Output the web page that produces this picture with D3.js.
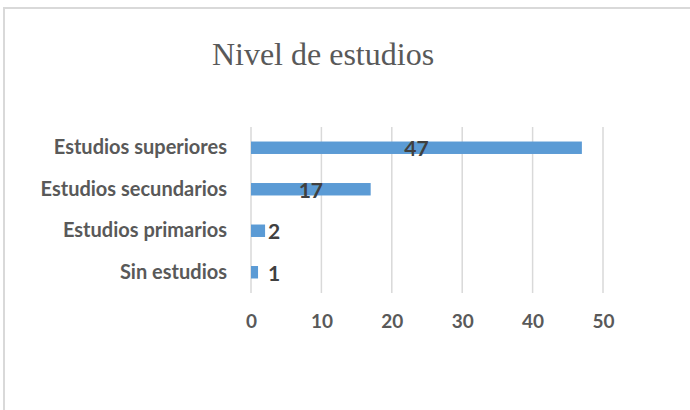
<!DOCTYPE html>
<html>
<head>
<meta charset="utf-8">
<script src="https://cdn.jsdelivr.net/npm/d3@7"></script>
<style>
  body { margin: 0; background: #fff; }
  svg { display: block; }
</style>
</head>
<body>
<svg id="chart"></svg>
<script>
var categories = ["Estudios superiores", "Estudios secundarios", "Estudios primarios", "Sin estudios"];
var values = [47, 17, 2, 1];
var xTicks = [0, 10, 20, 30, 40, 50];
var title = "Nivel de estudios";

var width = 690, height = 410;
var margin = { "top": 127, "right": 87, "bottom": 117, "left": 251 };

var svg = d3.select("#chart")
  .attr("width", width)
  .attr("height", height);

// chart area border
svg.append("rect")
  .attr("x", 4)
  .attr("y", 8)
  .attr("width", width + 10)
  .attr("height", height + 10)
  .attr("fill", "#fff")
  .attr("stroke", "#d9d9d9")
  .attr("stroke-width", 2);

svg.append("text")
  .attr("x", 323)
  .attr("y", 65)
  .attr("text-anchor", "middle")
  .attr("font-family", "'Liberation Serif', 'Times New Roman', serif")
  .attr("font-size", 32)
  .attr("fill", "#595959")
  .text(title);

var x = d3.scaleLinear()
  .domain([0, 50])
  .range([margin.left, width - margin.right]);

var y = d3.scaleBand()
  .domain(categories)
  .range([margin.top, height - margin.bottom])
  .paddingInner(0.7)
  .paddingOuter(0.35);

// gridlines
svg.append("g")
  .selectAll("line")
  .data(xTicks)
  .enter()
  .append("line")
  .attr("x1", function(d) { return x(d); })
  .attr("x2", function(d) { return x(d); })
  .attr("y1", margin.top)
  .attr("y2", height - margin.bottom)
  .attr("stroke", "#d9d9d9")
  .attr("stroke-width", 1.5);

// x axis labels
var xAxis = svg.append("g")
  .attr("transform", "translate(0," + (height - margin.bottom) + ")")
  .call(d3.axisBottom(x).tickValues(xTicks).tickSize(0).tickPadding(22));
xAxis.select(".domain").remove();
xAxis.selectAll("text")
  .attr("font-family", "Lato, 'Open Sans', sans-serif")
  .attr("font-weight", "bold")
  .attr("font-size", 19)
  .attr("fill", "#595959");

// y axis labels
var yAxis = svg.append("g")
  .attr("transform", "translate(" + (margin.left - 24) + ",0)")
  .call(d3.axisLeft(y).tickSize(0).tickPadding(0));
yAxis.select(".domain").remove();
yAxis.selectAll("text")
  .attr("font-family", "Lato, 'Open Sans', sans-serif")
  .attr("font-weight", "bold")
  .attr("font-size", 20)
  .attr("fill", "#595959");

var rows = categories.map(function(c, i) { return { name: c, value: values[i] }; });

svg.append("g")
  .selectAll("rect")
  .data(rows)
  .enter()
  .append("rect")
  .attr("x", x(0))
  .attr("y", function(d) { return y(d.name); })
  .attr("width", function(d) { return x(d.value) - x(0); })
  .attr("height", y.bandwidth())
  .attr("fill", "#5b9bd5");

// data labels: centred on the bar, pushed right when the bar is too short
var labels = svg.append("g")
  .selectAll("text")
  .data(rows)
  .enter()
  .append("text")
  .attr("y", function(d) { return y(d.name) + y.bandwidth() / 2 + 1; })
  .attr("dy", "0.35em")
  .attr("font-family", "Lato, 'Open Sans', sans-serif")
  .attr("font-weight", "bold")
  .attr("font-size", 21)
  .attr("fill", "#404040")
  .text(function(d) { return d.value; });

labels.attr("x", function(d) {
  var w = this.getComputedTextLength();
  var left = x(d.value / 2) - w / 2;
  return Math.max(left, x(0) + 17);
});
</script>
</body>
</html>
